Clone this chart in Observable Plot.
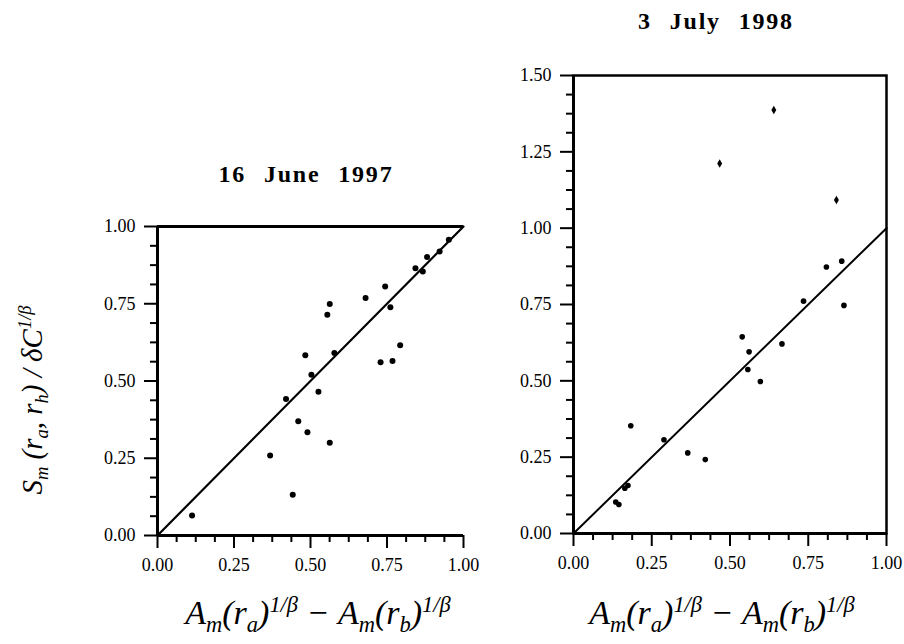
<!DOCTYPE html>
<html><head><meta charset="utf-8">
<script src="https://cdn.jsdelivr.net/npm/d3@7"></script>
<script src="https://cdn.jsdelivr.net/npm/@observablehq/plot@0.6"></script>
<style>
body{margin:0;background:#fff;}
#wrap{position:relative;width:904px;height:644px;overflow:hidden;font-family:"Liberation Serif","Times New Roman",serif;color:#000;}
.abs{position:absolute;line-height:1;white-space:nowrap;}
.title{font-weight:bold;font-size:24px;letter-spacing:1.8px;word-spacing:10px;transform:translateX(-50%);}
.math{font-style:italic;font-size:34px;transform:translateX(-50%);}
.math sub,.math sup{font-size:66%;line-height:0;}
.ytitle{font-style:italic;font-size:29px;transform:translate(-50%,-50%) rotate(-90deg);}
.ytitle sub,.ytitle sup{font-size:64%;line-height:0;}
</style></head>
<body><div id="wrap"></div>
<script>
// ---- data: 16 June 1997 ----
const juneX = [0.113,0.368,0.420,0.442,0.460,0.483,0.490,0.503,0.526,0.555,0.563,0.563,0.578,0.680,0.729,0.744,0.761,0.768,0.793,0.843,0.867,0.881,0.922,0.952];
const juneY = [0.065,0.259,0.442,0.132,0.370,0.583,0.334,0.520,0.465,0.714,0.749,0.300,0.591,0.769,0.561,0.806,0.739,0.565,0.616,0.865,0.854,0.901,0.919,0.957];
// ---- data: 3 July 1998 ----
const julyX = [0.135,0.145,0.164,0.174,0.183,0.289,0.365,0.421,0.539,0.557,0.561,0.597,0.666,0.735,0.808,0.857,0.864];
const julyY = [0.103,0.095,0.148,0.157,0.353,0.307,0.264,0.242,0.644,0.537,0.595,0.498,0.621,0.761,0.873,0.892,0.747];
const julyOutX = [0.467,0.640,0.840];
const julyOutY = [1.212,1.387,1.092];
// 1:1 line
const lineX = [0, 1];
const lineY = [0, 1];
// ---- ticks ----
const xMajor = [0, 0.25, 0.5, 0.75, 1];
const xMinor = [0.0625,0.125,0.1875,0.3125,0.375,0.4375,0.5625,0.625,0.6875,0.8125,0.875,0.9375];
const yMajorJune = [0, 0.25, 0.5, 0.75, 1];
const yMinorJune = xMinor;
const yMajorJuly = [0, 0.25, 0.5, 0.75, 1, 1.25, 1.5];
const yMinorJuly = [0.0625,0.125,0.1875,0.3125,0.375,0.4375,0.5625,0.625,0.6875,0.8125,0.875,0.9375,1.0625,1.125,1.1875,1.3125,1.375,1.4375];
const titles = ["16 June 1997", "3 July 1998"];

const fmt = d3.format(".2f");
const style = {fontFamily: '"Liberation Serif","Times New Roman",serif', fontSize: "18px", background: "transparent", color: "#000", overflow: "visible"};

function axes(yMajor, yMinor) {
  return [
    Plot.axisX({ticks: xMajor, tickSize: 13, tickPadding: 10, tickFormat: fmt, strokeWidth: 2, label: null}),
    Plot.axisX({ticks: xMinor, tickSize: 7, tickFormat: () => "", strokeWidth: 2, label: null}),
    Plot.axisY({ticks: yMajor, tickSize: 13, tickPadding: 9, tickFormat: fmt, strokeWidth: 2, label: null}),
    Plot.axisY({ticks: yMinor, tickSize: 7, tickFormat: () => "", strokeWidth: 2, label: null})
  ];
}

const june = juneX.map((x, i) => ({x, y: juneY[i]}));
const july = julyX.map((x, i) => ({x, y: julyY[i]}));
const julyOut = julyOutX.map((x, i) => ({x, y: julyOutY[i]}));
const line = lineX.map((x, i) => ({x, y: lineY[i]}));

const left = Plot.plot({
  width: 493, height: 430,
  marginLeft: 157, marginRight: 30, marginTop: 76, marginBottom: 45,
  style,
  x: {domain: [0, 1], axis: null},
  y: {domain: [0, 1], axis: null},
  marks: [
    ...axes(yMajorJune, yMinorJune),
    Plot.ruleX([0], {strokeWidth: 3}),
    Plot.ruleY([0], {strokeWidth: 3}),
    Plot.ruleY([1], {strokeWidth: 3}),
    Plot.line(line, {x: "x", y: "y", strokeWidth: 2.2}),
    Plot.dot(june, {x: "x", y: "y", r: 3, fill: "#000", stroke: "none"})
  ]
});

const right = Plot.plot({
  width: 411, height: 540,
  marginLeft: 80, marginRight: 18, marginTop: 35, marginBottom: 47,
  style,
  x: {domain: [0, 1], axis: null},
  y: {domain: [0, 1.5], axis: null},
  marks: [
    ...axes(yMajorJuly, yMinorJuly),
    Plot.frame({strokeWidth: 2.5}),
    Plot.ruleX([0], {strokeWidth: 3}),
    Plot.ruleY([0], {strokeWidth: 3}),
    Plot.line(line, {x: "x", y: "y", strokeWidth: 2}),
    Plot.dot(july, {x: "x", y: "y", r: 2.8, fill: "#000", stroke: "none"}),
    Plot.dot(julyOut, {x: "x", y: "y", r: 2.6, symbol: "diamond", fill: "#000", stroke: "none"})
  ]
});

const wrap = document.getElementById("wrap");
left.style.position = "absolute"; left.style.left = "0px"; left.style.top = "150px";
right.style.position = "absolute"; right.style.left = "493px"; right.style.top = "40px";
wrap.appendChild(left);
wrap.appendChild(right);

function addDiv(cls, html, x, y) {
  const d = document.createElement("div");
  d.className = "abs " + cls;
  d.innerHTML = html;
  d.style.left = x + "px";
  d.style.top = y + "px";
  wrap.appendChild(d);
}
addDiv("title", titles[0], 306, 162);
addDiv("title", titles[1], 716, 9);
const formula = 'A<sub>m</sub>(r<sub>a</sub>)<sup>1/&beta;</sup> &minus; A<sub>m</sub>(r<sub>b</sub>)<sup>1/&beta;</sup>';
addDiv("math", formula, 318, 596);
addDiv("math", formula, 722, 596);
addDiv("ytitle", 'S<sub>m</sub> (r<sub>a</sub>, r<sub>h</sub>) / &delta;C<sup>1/&beta;</sup>', 32, 400);
</script>
</body></html>
